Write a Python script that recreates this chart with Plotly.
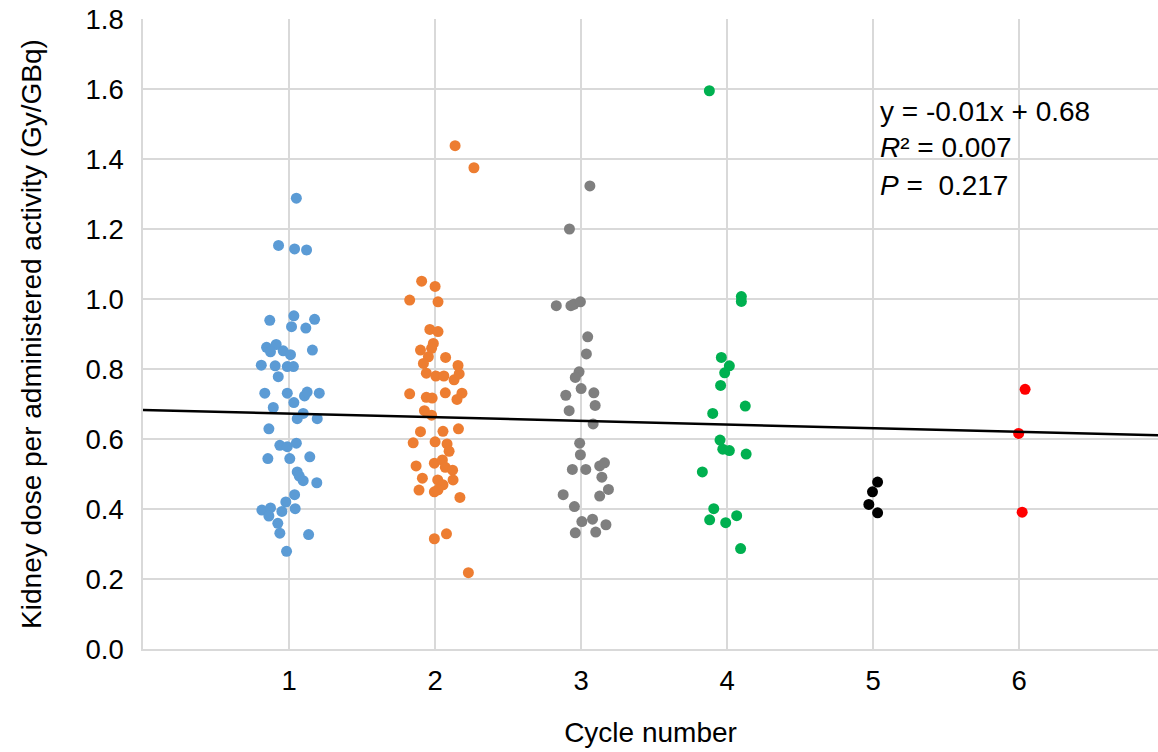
import plotly.graph_objects as go

# ---- data ----
cycle1_x = [1.05, 0.928, 1.038, 1.12, 0.868, 1.033, 1.017, 1.175, 1.115, 0.846, 0.912, 0.873, 0.96, 1.01, 1.16,
            0.81, 0.905, 0.988, 1.03, 0.926, 0.834, 0.988, 1.106, 1.124, 1.207, 1.033, 0.892, 1.097, 1.056, 1.193,
            0.862, 0.937, 0.988, 1.05, 0.855, 1.005, 1.142, 1.056, 1.07, 1.097, 1.19, 1.038, 0.978, 0.814, 0.873,
            0.862, 0.951, 1.042, 0.923, 0.937, 1.134, 0.983]
cycle1_y = [1.288, 1.153, 1.143, 1.14, 0.939, 0.952, 0.921, 0.942, 0.917, 0.862, 0.870, 0.849, 0.852, 0.841, 0.854,
            0.811, 0.809, 0.807, 0.807, 0.778, 0.731, 0.731, 0.723, 0.734, 0.731, 0.704, 0.690, 0.673, 0.658, 0.658,
            0.629, 0.582, 0.578, 0.588, 0.544, 0.544, 0.549, 0.506, 0.494, 0.481, 0.475, 0.441, 0.420, 0.397, 0.403,
            0.380, 0.393, 0.401, 0.359, 0.331, 0.327, 0.279]

cycle2_x = [2.137, 2.266, 1.908, 2.0, 1.826, 2.02, 1.964, 2.02, 1.988, 1.976, 1.90, 1.954, 2.072, 1.92, 2.157,
            1.94, 2.005, 2.06, 2.13, 2.165, 1.826, 1.94, 1.98, 2.07, 2.184, 2.15, 1.927, 1.976, 1.90, 2.054, 2.16,
            1.85, 2.0, 2.082, 2.096, 1.87, 1.995, 2.05, 2.07, 2.12, 1.913, 2.018, 2.054, 2.123, 1.89, 1.995, 2.02,
            2.17, 1.995, 2.078, 2.228]
cycle2_y = [1.438, 1.375, 1.051, 1.036, 0.997, 0.992, 0.913, 0.907, 0.873, 0.859, 0.854, 0.835, 0.833, 0.816, 0.810,
            0.788, 0.780, 0.780, 0.769, 0.786, 0.729, 0.719, 0.717, 0.732, 0.731, 0.713, 0.681, 0.668, 0.621, 0.622, 0.629,
            0.589, 0.592, 0.586, 0.565, 0.523, 0.531, 0.540, 0.519, 0.511, 0.488, 0.483, 0.469, 0.483, 0.454, 0.449, 0.455,
            0.433, 0.315, 0.329, 0.218]

cycle3_x = [3.06, 2.92, 2.83, 2.93, 2.95, 2.995, 3.045, 3.036, 2.986, 2.96, 3.0, 2.895, 3.087, 3.096, 2.918, 3.082,
            2.99, 2.995, 2.94, 3.032, 3.127, 3.16, 3.142, 3.187, 2.877, 3.127, 2.954, 3.005, 3.078, 3.17, 2.96, 3.10]
cycle3_y = [1.323, 1.200, 0.981, 0.981, 0.985, 0.992, 0.892, 0.843, 0.792, 0.776, 0.744, 0.725, 0.732, 0.696, 0.681, 0.643,
            0.588, 0.555, 0.513, 0.513, 0.523, 0.532, 0.491, 0.456, 0.441, 0.437, 0.407, 0.364, 0.371, 0.355, 0.332, 0.334]

cycle4_x = [3.878, 4.097, 4.097, 3.96, 4.015, 3.983, 3.955, 4.124, 3.901, 3.951, 3.97, 4.015, 4.13, 3.83, 3.908,
            3.88, 3.99, 4.065, 4.092]
cycle4_y = [1.595, 1.007, 0.993, 0.833, 0.809, 0.789, 0.753, 0.694, 0.673, 0.597, 0.571, 0.567, 0.557, 0.506, 0.401,
            0.369, 0.361, 0.381, 0.287]

cycle5_x = [5.03, 4.995, 4.97, 5.03]
cycle5_y = [0.477, 0.449, 0.413, 0.389]

cycle6_x = [6.04, 5.996, 6.02]
cycle6_y = [0.742, 0.616, 0.391]

series_colors = ["#5B9BD5", "#ED7D31", "#7F7F7F", "#00B050", "#000000", "#FF0000"]

trend_slope = -0.0104
trend_intercept = 0.683
trend_x = [0, 6.95]

x_ticks = [1, 2, 3, 4, 5, 6]
y_ticks = [0.0, 0.2, 0.4, 0.6, 0.8, 1.0, 1.2, 1.4, 1.6, 1.8]

eq_text = "y = -0.01x + 0.68"
r2_text = "<i>R</i>² = 0.007"
p_text = "<i>P</i> =  0.217"

FONT = "Arial, Liberation Sans, sans-serif"

fig = go.Figure()

all_x = [cycle1_x, cycle2_x, cycle3_x, cycle4_x, cycle5_x, cycle6_x]
all_y = [cycle1_y, cycle2_y, cycle3_y, cycle4_y, cycle5_y, cycle6_y]
for i, (xs, ys) in enumerate(zip(all_x, all_y)):
    fig.add_trace(go.Scatter(x=xs, y=ys, mode="markers",
                             marker=dict(color=series_colors[i], size=11, line=dict(width=0)),
                             showlegend=False, name=f"Cycle {i+1}"))

fig.add_trace(go.Scatter(x=trend_x, y=[trend_intercept + trend_slope * v for v in trend_x],
                         mode="lines", line=dict(color="#000000", width=2.5), showlegend=False))

for txt, yv in [(eq_text, 1.535), (r2_text, 1.433), (p_text, 1.325)]:
    fig.add_annotation(x=5.03, y=yv, xref="x", yref="y", text=txt, showarrow=False,
                       xanchor="left", yanchor="middle", font=dict(family=FONT, size=28, color="#000000"))

fig.update_layout(
    width=1158, height=752,
    margin=dict(l=143, r=0, t=19, b=103),
    paper_bgcolor="white", plot_bgcolor="white",
    font=dict(family=FONT, size=27.5, color="#000000"),
)
fig.update_xaxes(range=[0, 6.95], tickvals=x_ticks, ticktext=[str(v) for v in x_ticks],
                 showgrid=True, gridcolor="#D9D9D9", gridwidth=1.5,
                 showline=True, linecolor="#D9D9D9", linewidth=1.5,
                 zeroline=False, ticks="", ticklabelstandoff=6,
                 title=dict(text="Cycle number", font=dict(size=28), standoff=28))
fig.update_yaxes(range=[0, 1.8], tickvals=y_ticks, tickformat=".1f",
                 showgrid=True, gridcolor="#D9D9D9", gridwidth=1.5,
                 showline=True, linecolor="#D9D9D9", linewidth=1.5,
                 zeroline=False, ticks="", ticklabelstandoff=12,
                 title=dict(text="Kidney dose per administered activity (Gy/GBq)", font=dict(size=28), standoff=36))

fig.write_html("out.html", config={"displayModeBar": False},
               post_script="document.body.style.margin='0';document.body.style.overflow='hidden';")
